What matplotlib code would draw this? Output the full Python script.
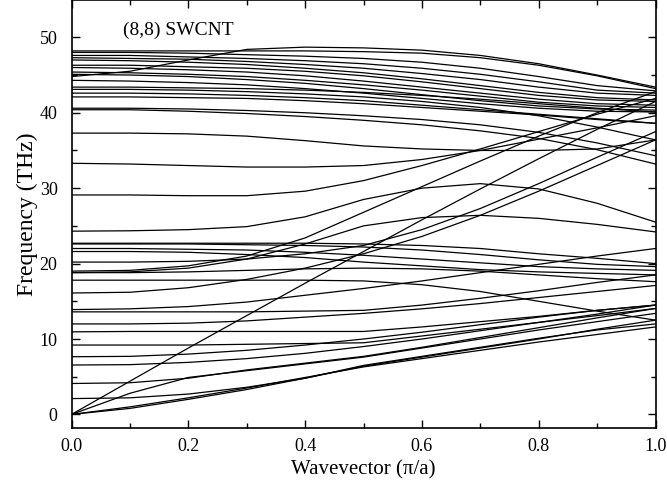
import matplotlib
matplotlib.use('Agg')
import matplotlib.pyplot as plt
from matplotlib.ticker import MultipleLocator

plt.rcParams['font.family'] = ['Liberation Serif', 'DejaVu Serif']

# wavevector grid (pi/a)
k = [0.0, 0.1, 0.2, 0.3, 0.4, 0.5, 0.6, 0.7, 0.8, 0.9, 1.0]

# high optical branches (THz)
upper = [
    [48.2, 48.2, 48.2, 48.2, 48.2, 48.1, 47.9, 47.3, 46.3, 44.9, 43.2],
    [44.8, 45.5, 47.0, 48.4, 48.7, 48.6, 48.3, 47.6, 46.5, 45.0, 43.4],
    [48.0, 48.0, 47.9, 47.7, 47.5, 47.2, 46.7, 45.9, 44.8, 43.6, 42.9],
    [47.6, 47.6, 47.4, 47.2, 46.9, 46.5, 45.9, 45.1, 44.1, 43.0, 42.6],
    [47.3, 47.2, 47.1, 46.8, 46.4, 45.9, 45.2, 44.4, 43.4, 42.6, 42.3],
    [47.0, 46.9, 46.7, 46.4, 45.9, 45.3, 44.5, 43.6, 42.7, 42.0, 41.7],
    [46.3, 46.3, 46.1, 45.9, 45.5, 44.9, 44.1, 43.2, 42.3, 41.7, 41.5],
    [46.0, 45.9, 45.7, 45.4, 44.9, 44.2, 43.4, 42.6, 41.8, 41.2, 41.0],
    [45.4, 45.3, 45.1, 44.8, 44.3, 43.7, 43.0, 42.2, 41.4, 40.9, 40.7],
    [45.1, 45.0, 44.8, 44.4, 43.9, 43.2, 42.4, 41.6, 40.9, 40.5, 40.35],
    [44.3, 44.2, 44.0, 43.7, 43.2, 42.6, 41.9, 41.2, 40.6, 40.2, 40.1],
    [43.4, 43.4, 43.3, 43.2, 43.0, 42.7, 42.3, 41.8, 41.2, 40.6, 40.1],
    [43.1, 43.1, 43.0, 42.8, 42.5, 42.1, 41.5, 40.7, 39.6, 38.1, 36.4],
    [42.6, 42.6, 42.5, 42.3, 42.0, 41.6, 41.0, 40.4, 39.8, 39.2, 38.6],
    [42.1, 42.1, 42.0, 41.9, 41.6, 41.2, 40.7, 40.2, 39.7, 39.1, 38.6],
    [40.6, 40.6, 40.5, 40.3, 40.0, 39.6, 39.1, 38.4, 37.4, 36.0, 34.3],
    [40.4, 40.4, 40.2, 39.9, 39.5, 39.0, 38.4, 37.6, 36.6, 35.1, 33.2],
    [37.3, 37.3, 37.2, 36.9, 36.3, 35.6, 35.2, 35.0, 35.0, 35.2, 36.4],
]

# middle branches (THz)
middle = [
    [33.3, 33.2, 33.0, 32.8, 32.8, 33.0, 33.8, 35.0, 36.5, 38.0, 39.6],
    [29.1, 29.1, 29.0, 29.0, 29.6, 31.0, 33.0, 35.2, 37.5, 39.8, 41.9],
    [24.3, 24.35, 24.5, 24.9, 26.2, 28.5, 30.0, 30.6, 29.9, 28.0, 25.5],
    [18.8, 18.9, 19.4, 20.6, 22.6, 25.0, 26.1, 26.4, 26.0, 25.2, 24.2],
    [19.0, 19.1, 19.7, 21.0, 23.4, 26.8, 30.2, 33.6, 36.9, 40.0, 42.8],
    [16.1, 16.2, 16.8, 17.9, 19.4, 21.3, 23.6, 26.4, 29.6, 33.0, 36.4],
    [20.2, 20.2, 20.3, 20.6, 21.3, 22.4, 24.5, 27.3, 30.6, 34.1, 37.5],
    [22.7, 22.7, 22.7, 22.7, 22.7, 22.6, 22.4, 22.0, 21.3, 20.7, 20.0],
    [22.6, 22.6, 22.6, 22.5, 22.4, 22.2, 21.8, 21.2, 20.5, 19.9, 19.6],
    [22.0, 22.0, 21.9, 21.8, 21.5, 21.1, 20.6, 20.1, 19.6, 19.3, 19.1],
    [21.6, 21.6, 21.5, 21.2, 20.8, 20.2, 19.7, 19.2, 18.9, 18.7, 18.5],
    [18.8, 18.8, 18.9, 19.1, 19.3, 19.4, 19.3, 19.0, 18.5, 18.0, 17.6],
    [17.8, 17.8, 17.8, 17.8, 17.8, 17.7, 17.2, 16.3, 15.0, 13.7, 12.5],
    [13.9, 14.0, 14.3, 14.9, 15.8, 16.7, 17.7, 18.8, 19.9, 21.0, 22.0],
    [13.6, 13.6, 13.6, 13.6, 13.7, 13.8, 14.5, 15.4, 16.4, 17.5, 18.5],
    [12.0, 12.0, 12.1, 12.4, 12.9, 13.4, 14.0, 14.7, 15.5, 16.3, 17.1],
    [10.95, 11.0, 11.0, 11.0, 11.0, 11.0, 11.6, 12.3, 13.0, 13.8, 14.5],
    [9.2, 9.2, 9.2, 9.3, 9.4, 9.5, 10.4, 11.3, 12.2, 13.1, 14.05],
]

# acoustic and low branches (THz)
lower = [
    [0.0, 1.0, 2.2, 3.5, 4.9, 6.3, 7.4, 8.5, 9.6, 10.6, 11.6],
    [0.0, 0.8, 2.0, 3.3, 4.8, 6.5, 7.7, 8.9, 10.1, 11.2, 12.0],
    [0.0, 2.8, 4.9, 5.8, 6.7, 7.6, 8.8, 10.0, 11.2, 12.3, 13.4],
    [0.0, 4.4, 8.8, 13.1, 17.4, 21.6, 25.8, 29.9, 33.9, 37.8, 41.5],
    [2.1, 2.2, 2.7, 3.6, 4.8, 6.4, 7.6, 8.8, 10.0, 11.3, 12.5],
    [4.1, 4.2, 4.8, 5.9, 6.8, 7.7, 8.9, 10.2, 11.5, 12.8, 14.05],
    [6.55, 6.6, 6.9, 7.4, 8.1, 9.0, 10.0, 11.1, 12.2, 13.3, 14.5],
    [7.65, 7.7, 8.0, 8.5, 9.2, 10.0, 10.9, 11.9, 12.9, 13.8, 14.5],
]

fig = plt.figure(figsize=(6.67, 4.9), dpi=100)
ax = fig.add_axes([71.5/667, 62/490, 584/667, 428/490])

for branch in upper + middle + lower:
    ax.plot(k, branch, color='black', lw=0.9)

ax.set_xlim(0, 1)
ax.set_ylim(-1.8, 54.95)
ax.xaxis.set_major_locator(MultipleLocator(0.2))
ax.xaxis.set_minor_locator(MultipleLocator(0.1))
ax.yaxis.set_major_locator(MultipleLocator(10))
ax.yaxis.set_minor_locator(MultipleLocator(5))
ax.tick_params(which='both', direction='in', top=True, right=True, labelsize=13, width=1)
ax.tick_params(which='major', length=6)
ax.tick_params(which='minor', length=3.5)
ax.tick_params(axis='y', pad=10)
ax.tick_params(axis='x', pad=7)
ax.set_xticks([0, 0.2, 0.4, 0.6, 0.8, 1.0])
ax.set_xticklabels(['0.0', '0.2', '0.4', '0.6', '0.8', '1.0'])
for s in ax.spines.values():
    s.set_linewidth(1.2)

ax.set_xlabel('Wavevector (\u03c0/a)', fontsize=15)
ax.set_ylabel('Frequency (THz)', fontsize=17, labelpad=1)
ax.text(0.088, 50.3, '(8,8) SWCNT', fontsize=14)

fig.savefig('out.png', dpi=100)
